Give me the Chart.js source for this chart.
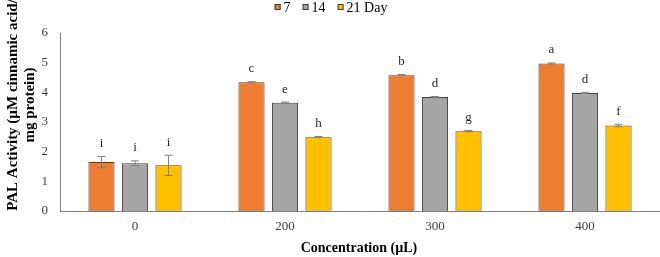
<!DOCTYPE html>
<html>
<head>
<meta charset="utf-8">
<script src="https://cdn.jsdelivr.net/npm/chart.js@4.4.0/dist/chart.umd.min.js"></script>
<style>
  html, body { margin: 0; padding: 0; background: #ffffff; }
  #wrap { width: 660px; height: 257px; position: relative; }
</style>
</head>
<body>
<div id="wrap"><canvas id="c" width="660" height="257"></canvas></div>
<script>
const categories = ['0', '200', '300', '400'];
const seriesLabels = ['7', '14', '21 Day'];
const day7 = [1.65, 4.34, 4.58, 4.97];
const day14 = [1.61, 3.65, 3.84, 3.98];
const day21 = [1.54, 2.49, 2.69, 2.88];
const err7 = [0.19, 0.02, 0.02, 0.02];
const err14 = [0.08, 0.02, 0.02, 0.02];
const err21 = [0.34, 0.02, 0.02, 0.04];
const letters7 = ['i', 'c', 'b', 'a'];
const letters14 = ['i', 'e', 'd', 'd'];
const letters21 = ['i', 'h', 'g', 'f'];
const yTicks = [0, 1, 2, 3, 4, 5, 6];
const xTitle = 'Concentration (µL)';
const yTitleLines = ['PAL Activity (µM cinnamic acid/', 'mg protein)'];

const colors = ['#ED7D31', '#A5A5A5', '#FFC000'];
const errs = [err7, err14, err21];
const letters = [letters7, letters14, letters21];
const FONT = '"Liberation Serif", "Times New Roman", serif';

const overlayPlugin = {
  id: 'overlay',
  afterDatasetsDraw(chart) {
    const ctx = chart.ctx;
    const ys = chart.scales.y;
    ctx.save();
    chart.data.datasets.forEach((ds, i) => {
      const meta = chart.getDatasetMeta(i);
      meta.data.forEach((bar, j) => {
        const v = ds.data[j];
        const e = errs[i][j];
        const yTop = ys.getPixelForValue(v + e);
        const yBot = ys.getPixelForValue(v - e);
        ctx.strokeStyle = '#7F7F7F';
        ctx.lineWidth = 1;
        ctx.beginPath();
        ctx.moveTo(bar.x, yTop); ctx.lineTo(bar.x, yBot);
        ctx.moveTo(bar.x - 4, yTop); ctx.lineTo(bar.x + 4, yTop);
        ctx.moveTo(bar.x - 4, yBot); ctx.lineTo(bar.x + 4, yBot);
        ctx.stroke();
        ctx.fillStyle = '#262626';
        ctx.font = '13px ' + FONT;
        ctx.textAlign = 'center';
        ctx.textBaseline = 'middle';
        ctx.fillText(letters[i][j], bar.x, Math.min(yTop, bar.y) - 13);
      });
    });
    ctx.restore();
  },
  afterDraw(chart) {
    const ctx = chart.ctx;
    const area = chart.chartArea;
    ctx.save();
    // x title
    ctx.fillStyle = '#000000';
    ctx.font = 'bold 14px ' + FONT;
    ctx.textAlign = 'center';
    ctx.textBaseline = 'middle';
    ctx.fillText(xTitle, (area.left + area.right) / 2 - 1, 248);
    // y title
    ctx.save();
    ctx.font = 'bold 15px ' + FONT;
    ctx.translate(0, 105);
    ctx.rotate(-Math.PI / 2);
    ctx.fillText(yTitleLines[0], 0, 13);
    ctx.fillText(yTitleLines[1], 0, 30);
    ctx.restore();
    // legend
    ctx.font = '14px ' + FONT;
    ctx.textAlign = 'left';
    const box = 6, gapBox = 3, gapItem = 12;
    const widths = chart.data.datasets.map(d => ctx.measureText(d.label).width);
    let total = 0;
    widths.forEach((w, k) => { total += box + gapBox + w + (k < widths.length - 1 ? gapItem : 0); });
    let x = 331 - total / 2;
    const yc = 7;
    chart.data.datasets.forEach((d, k) => {
      ctx.fillStyle = d.backgroundColor;
      ctx.fillRect(x, yc - box / 2, box, box);
      ctx.strokeStyle = '#404040';
      ctx.lineWidth = 1;
      ctx.strokeRect(x + 0.5, yc - box / 2 + 0.5, box - 1, box - 1);
      ctx.fillStyle = '#000000';
      ctx.fillText(d.label, x + box + gapBox, yc + 1);
      x += box + gapBox + widths[k] + gapItem;
    });
    ctx.restore();
  }
};

new Chart(document.getElementById('c'), {
  type: 'bar',
  data: {
    labels: categories,
    datasets: [
      { label: seriesLabels[0], data: day7, backgroundColor: colors[0] },
      { label: seriesLabels[1], data: day14, backgroundColor: colors[1] },
      { label: seriesLabels[2], data: day21, backgroundColor: colors[2] }
    ].map(d => Object.assign(d, {
      borderColor: '#404040', borderWidth: 1,
      barPercentage: 0.78, categoryPercentage: 0.67
    }))
  },
  options: {
    responsive: false,
    animation: false,
    devicePixelRatio: 1,
    layout: { padding: { top: 33, right: 0, bottom: 0, left: 0 } },
    plugins: { legend: { display: false }, tooltip: { enabled: false } },
    scales: {
      x: {
        grid: { display: false, drawTicks: false },
        border: { display: true, color: '#7F7F7F', width: 1 },
        ticks: { color: '#404040', font: { family: FONT, size: 13 }, padding: 8 },
        afterFit(scale) { scale.height = 46; }
      },
      y: {
        min: 0, max: 6,
        afterBuildTicks(scale) { scale.ticks = yTicks.map(v => ({ value: v })); },
        grid: { display: false, drawTicks: false },
        border: { display: true, color: '#7F7F7F', width: 1 },
        ticks: { color: '#404040', font: { family: FONT, size: 13 }, padding: 12 },
        afterFit(scale) { scale.width = 60; }
      }
    }
  },
  plugins: [overlayPlugin]
});
</script>
</body>
</html>
